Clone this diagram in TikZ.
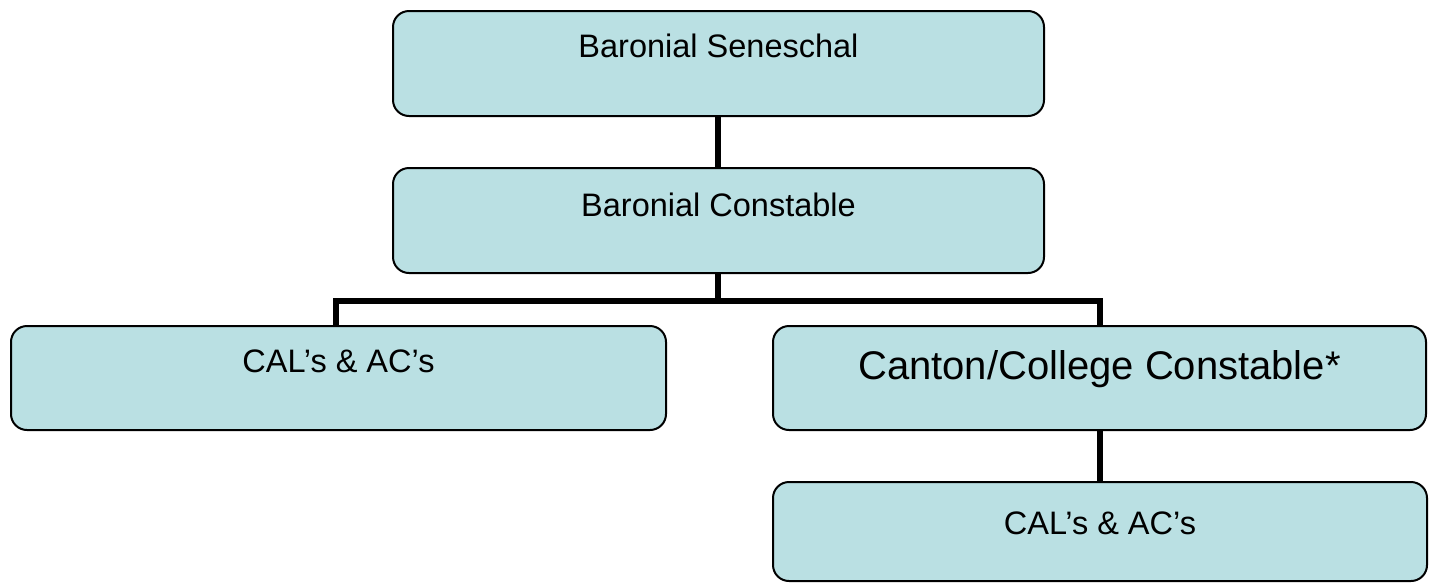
\documentclass[tikz,border=0pt]{standalone}
\usepackage{fontspec}
\setmainfont{Liberation Sans}
\definecolor{boxfill}{RGB}{186,224,227}
\begin{document}
\begin{tikzpicture}[x=1pt,y=-1pt,
  orgbox/.style={draw=black, line width=2pt, fill=boxfill, rounded corners=16pt,
    inner sep=0pt, anchor=north west, font=\fontsize{32.5}{36}\selectfont},
  link/.style={line width=6pt, black}]
\useasboundingbox (0,0) rectangle (1431,582);
\node[orgbox, minimum width=651pt, text height=46pt, text depth=59pt] (sen) at (392,10) {Baronial Seneschal};
\node[orgbox, minimum width=651pt, text height=48pt, text depth=57pt] (con) at (392,167) {Baronial Constable};
\node[orgbox, minimum width=655pt, text height=46pt, text depth=58pt] (cal1) at (10,325) {CAL’s \& AC’s};
\node[orgbox, minimum width=653pt, text height=53pt, text depth=51pt, font=\fontsize{40}{44}\selectfont] (cant) at (772,325) {Canton/College Constable*};
\node[orgbox, minimum width=654pt, text height=52pt, text depth=47pt] (cal2) at (772,481) {CAL’s \& AC’s};
\coordinate (j) at (718,301);
\draw[link] (sen.south -| j) -- (con.north -| j);
\draw[link] (con.south -| j) -- (j);
\draw[link, line cap=rect] (336,301) -- (1100,301);
\coordinate (jl) at (336,301);
\coordinate (jr) at (1100,301);
\draw[link] (jl) -- (cal1.north -| jl);
\draw[link] (jr) -- (cant.north -| jr);
\draw[link] (cant.south -| jr) -- (cal2.north -| jr);
\end{tikzpicture}
\end{document}
